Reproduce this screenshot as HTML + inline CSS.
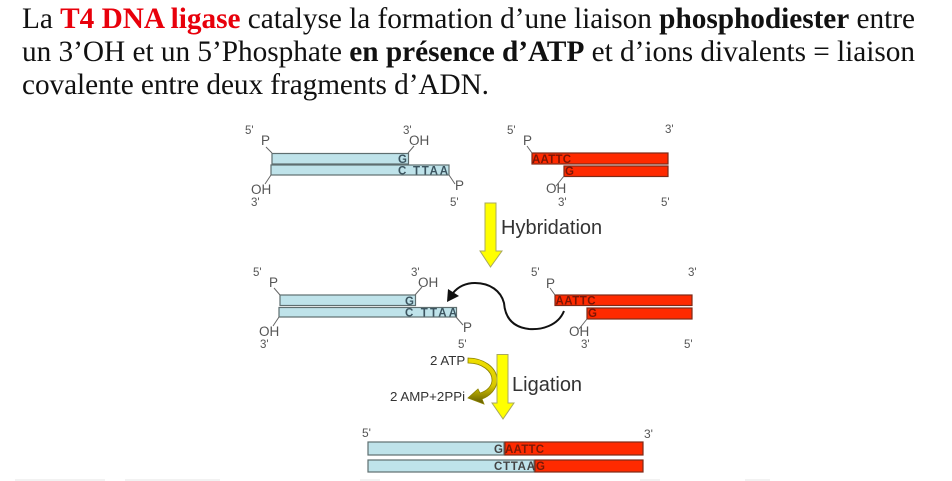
<!DOCTYPE html>
<html><head><meta charset="utf-8"><style>
html,body{margin:0;padding:0;background:#fff;width:952px;height:481px;overflow:hidden}
svg{display:block;filter:blur(.3px)}
.t{font-family:"Liberation Serif",serif;font-size:29.3px;fill:#111}
.s{font-family:"Liberation Sans",sans-serif;font-size:11.500px;fill:#555}
.l{font-family:"Liberation Sans",sans-serif;font-size:13.500px;fill:#555}
.a{font-family:"Liberation Sans",sans-serif;font-size:13.300px;fill:#333}
.h{font-family:"Liberation Sans",sans-serif;font-size:20px;fill:#333}
.b{fill:#bfe3ea;stroke:#5f6f70;stroke-width:1.2}
.r{fill:#ff2a00;stroke:#7d2a18;stroke-width:1.2}
.q{font-family:"Liberation Sans",sans-serif;font-size:11.500px;font-weight:bold;fill:#3c5560}
.q2{font-family:"Liberation Sans",sans-serif;font-size:11.500px;font-weight:bold;fill:#7a1505}
.ln{stroke:#666;stroke-width:1;fill:none}
</style></head><body>
<svg width="952" height="481" viewBox="0 0 952 481" xmlns="http://www.w3.org/2000/svg">
<defs><linearGradient id="g" x1="0" y1="0" x2="0" y2="1"><stop offset="0" stop-color="#f0e000"/><stop offset=".6" stop-color="#d8c800"/><stop offset="1" stop-color="#5f5800"/></linearGradient></defs>
<text class="t" x="22" y="28" textLength="893" lengthAdjust="spacing">La <tspan font-weight="bold" fill="#e8000b">T4 DNA ligase</tspan> catalyse la formation d’une liaison <tspan font-weight="bold">phosphodiester</tspan> entre</text>
<text class="t" x="22" y="61" textLength="893" lengthAdjust="spacing">un 3’OH et un 5’Phosphate <tspan font-weight="bold">en présence d’ATP</tspan> et d’ions divalents = liaison</text>
<text class="t" x="22" y="94" textLength="467" lengthAdjust="spacing">covalente entre deux fragments d’ADN.</text>

<!-- group 1 -->
<g>
<rect class="b" x="272" y="153.5" width="136.500" height="10.500"/>
<rect class="b" x="271" y="165" width="178" height="10"/>
<text class="q" x="398" y="163">G</text>
<text class="q" x="398" y="174.500" textLength="50">C TTAA</text>
<path class="ln" d="M272 153 L266 147 M408 153 L414 146 M271 175 L265 184 M449 175 L455 184"/>
<text class="s" x="245" y="134">5'</text><text class="l" x="261" y="145">P</text>
<text class="s" x="403" y="134">3'</text><text class="l" x="409" y="145">OH</text>
<text class="l" x="251" y="194">OH</text><text class="s" x="251" y="206">3'</text>
<text class="l" x="455" y="190">P</text><text class="s" x="450" y="206">5'</text>
</g>
<!-- group 1 right -->
<g>
<rect class="r" x="532" y="153" width="136" height="11"/>
<rect class="r" x="564" y="166" width="104" height="10.500"/>
<text class="q2" x="532" y="163" textLength="39">AATTC</text>
<text class="q2" x="565" y="175">G</text>
<path class="ln" d="M532 153 L527 146 M564 176 L556 186"/>
<text class="s" x="507" y="134">5'</text><text class="l" x="523" y="145">P</text>
<text class="s" x="665" y="133">3'</text>
<text class="l" x="546" y="193">OH</text><text class="s" x="558" y="206">3'</text>
<text class="s" x="661" y="206">5'</text>
</g>
<!-- hybridation arrow -->
<path d="M485 203 H496 V251 H502 L490.500 267 L480 251 H485 Z" fill="#ffff00" stroke="#a8a860" stroke-width="1"/>
<text class="h" x="501" y="234">Hybridation</text>

<!-- group 2 -->
<g>
<rect class="b" x="280" y="295" width="135.500" height="10.500"/>
<rect class="b" x="279" y="307.500" width="177.500" height="9.500"/>
<text class="q" x="405" y="305">G</text>
<text class="q" x="405" y="316.500" textLength="52">C TTAA</text>
<path class="ln" d="M280 295 L274 288 M415 295 L422 287 M279 317 L273 326 M456 317 L463 325"/>
<text class="s" x="253" y="276">5'</text><text class="l" x="269" y="287">P</text>
<text class="s" x="411" y="276">3'</text><text class="l" x="418" y="287">OH</text>
<text class="l" x="259" y="336">OH</text><text class="s" x="260" y="348">3'</text>
<text class="l" x="463" y="332">P</text><text class="s" x="458" y="348">5'</text>
</g>
<g>
<rect class="r" x="555" y="295" width="137" height="10.500"/>
<rect class="r" x="587" y="308" width="105" height="11"/>
<text class="q2" x="555.500" y="304.500" textLength="40">AATTC</text>
<text class="q2" x="588" y="317">G</text>
<path class="ln" d="M555 295 L550 288 M587 319 L579 329"/>
<text class="s" x="531" y="276">5'</text><text class="l" x="546" y="288">P</text>
<text class="s" x="688" y="276">3'</text>
<text class="l" x="569" y="336">OH</text><text class="s" x="581" y="348">3'</text>
<text class="s" x="684" y="348">5'</text>
</g>
<!-- curved black arrow -->
<path d="M564 311 C558 326 541 330 529 329 C511 327 505 316 504 303 C501 291 490 283 475 283 C465 283 458 287 453 293" fill="none" stroke="#111" stroke-width="2"/>
<path d="M447 302 L448 289 L459 296 Z" fill="#111"/>

<!-- ligation arc then arrow -->
<path d="M468 358 C483 358 497 367 497 380 C497 389 490 396 482 399 L484 404 L468 398 L478 389 L480 393 C487 391 492 386 492 380 C492 371 482 363 468 363 Z" fill="url(#g)" stroke="#8a8000" stroke-width="0.800"/>
<path d="M497 354.500 H508 V403 H514 L503 419 L492 403 H497 Z" fill="#ffff00" stroke="#a8a860" stroke-width="1"/>
<text class="a" x="430" y="365">2 ATP</text>
<text class="a" x="390" y="401">2 AMP+2PPi</text>
<text class="h" x="512" y="391">Ligation</text>

<!-- final -->
<rect class="b" x="368" y="442" width="136" height="13"/>
<rect x="505" y="442" width="138" height="13" class="r"/>
<rect class="b" x="368" y="460" width="166" height="12"/>
<rect x="535" y="460" width="108" height="12" class="r"/>
<text class="s" x="362" y="437" style="font-size:12px">5'</text>
<text class="s" x="644" y="438" style="font-size:12px">3'</text>
<text x="494" y="453" style="font-family:'Liberation Sans',sans-serif;font-size:11.500px;font-weight:bold;fill:#444">G</text>
<text x="505" y="453" textLength="39" style="font-family:'Liberation Sans',sans-serif;font-size:11.500px;font-weight:bold;fill:#7a1a08">AATTC</text>
<text x="494" y="470" textLength="41" style="font-family:'Liberation Sans',sans-serif;font-size:11.500px;font-weight:bold;fill:#444">CTTAA</text>
<text x="536" y="470" style="font-family:'Liberation Sans',sans-serif;font-size:11.500px;font-weight:bold;fill:#7a1a08">G</text>
<path d="M15 480 H105 M125 480 H220 M360 480 H380 M640 480 H660 M745 480 H770" stroke="#f2f2f2" stroke-width="2"/>
</svg>
</body></html>
